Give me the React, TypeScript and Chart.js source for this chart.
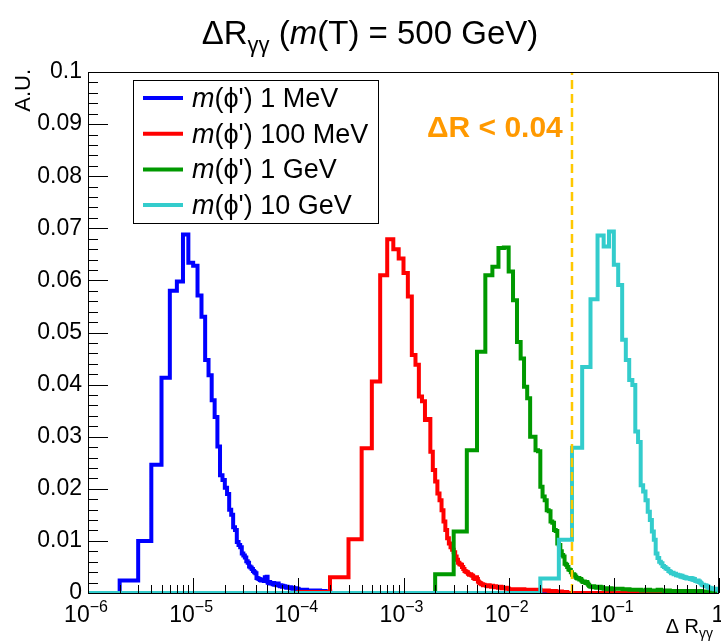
import React, { useEffect, useRef } from 'react';
import { Chart, registerables } from 'chart.js';

Chart.register(...registerables);

// ---------------- data ----------------
const X_MIN = 1e-6;
const X_MAX = 1;
const Y_MIN = 0;
const Y_MAX = 0.1;
const Y_STEP = 0.01;
const CUT_VALUE = 0.04;
const CUT_LABEL = 'ΔR < 0.04';
const X_DECADES = [-6, -5, -4, -3, -2, -1, 0];
const SERIES_LABELS = ['1 MeV', '100 MeV', '1 GeV', '10 GeV'];
const SERIES_COLORS = ['#0000ff', '#ff0000', '#009900', '#33cccc'];
// linear bin width of each histogram; bin k spans [k*w, (k+1)*w]
const BIN_WIDTHS = [1e-6, 1e-4, 1e-3, 1e-2];
// tail bins are this many fine bins wide
const TAIL_GROUP = 20;

const blueValues = [
  0, 0.0024, 0.0100, 0.0246, 0.0413, 0.0580, 0.0598, 0.0688, 0.0634, 0.0628,
  0.0571, 0.0530, 0.0447, 0.0418, 0.0370, 0.0338, 0.0281, 0.0226, 0.0217, 0.0202,
  0.0190, 0.0160, 0.0150, 0.0126, 0.0121, 0.0098, 0.0092, 0.0088, 0.0076, 0.0072,
  0.0068, 0.0061, 0.0058, 0.0051, 0.0049, 0.0046, 0.0042, 0.0040, 0.0038, 0.0029,
  0.0028, 0.0027, 0.0025, 0.0024, 0.0026, 0.0024, 0.0023, 0.0030, 0.0029, 0.0031,
  0.0020, 0.0019, 0.0021, 0.0018, 0.0019, 0.0018, 0.0017, 0.0019, 0.0016, 0.0018,
  0.0017, 0.0015, 0.0016, 0.0018, 0.0015, 0.0014, 0.0013, 0.0015, 0.0014, 0.0012,
  0.0014, 0.0013, 0.0012, 0.0013, 0.0012, 0.0011, 0.0010, 0.0012, 0.0011, 0.0010,
  0.0011, 0.0010, 0.0009, 0.0011, 0.0010, 0.0009, 0.0010, 0.0008, 0.0009, 0.0010,
  0.0009, 0.0008, 0.0009, 0.0008, 0.0007, 0.0009, 0.0008, 0.0007, 0.0008, 0.0007,
];
const blueTail = [0.0006, 0.0005, 0.0005, 0.0004, 0.0003];

const redValues = [
  0.0002, 0.0030, 0.0103, 0.0278, 0.0406, 0.0610, 0.0679, 0.0660, 0.0642, 0.0614,
  0.0569, 0.0457, 0.0438, 0.0377, 0.0368, 0.0332, 0.0334, 0.0271, 0.0236, 0.0214,
  0.0191, 0.0178, 0.0159, 0.0137, 0.0121, 0.0105, 0.0095, 0.0088, 0.0083, 0.0078,
  0.0070, 0.0064, 0.0058, 0.0055, 0.0054, 0.0050, 0.0046, 0.0042, 0.0041, 0.0040,
  0.0037, 0.0035, 0.0036, 0.0034, 0.0033, 0.0029, 0.0028, 0.0027, 0.0030, 0.0027,
  0.0022, 0.0020, 0.0019, 0.0018, 0.0017, 0.0017, 0.0015, 0.0016, 0.0015, 0.0015,
  0.0014, 0.0015, 0.0013, 0.0014, 0.0015, 0.0013, 0.0014, 0.0012, 0.0013, 0.0014,
  0.0012, 0.0013, 0.0012, 0.0011, 0.0013, 0.0012, 0.0011, 0.0012, 0.0010, 0.0011,
  0.0010, 0.0011, 0.0010, 0.0012, 0.0010, 0.0009, 0.0011, 0.0010, 0.0009, 0.0010,
  0.0009, 0.0010, 0.0009, 0.0008, 0.0010, 0.0009, 0.0008, 0.0009, 0.0008, 0.0008,
];
const redTail = [
  0.0007, 0.0007, 0.0006, 0.0006, 0.0006, 0.0005, 0.0005, 0.0004, 0.0004, 0.0003,
  0.0003, 0.0002, 0.0002,
];

const greenValues = [
  0, 0.0036, 0.0118, 0.0274, 0.0463, 0.0610, 0.0626, 0.0662, 0.0663, 0.0617,
  0.0562, 0.0482, 0.0450, 0.0396, 0.0374, 0.0300, 0.0300, 0.0274, 0.0272, 0.0204,
  0.0185, 0.0178, 0.0159, 0.0157, 0.0137, 0.0135, 0.0121, 0.0119, 0.0095, 0.0092,
  0.0080, 0.0073, 0.0070, 0.0056, 0.0054, 0.0050, 0.0045, 0.0044, 0.0040, 0.0035,
  0.0036, 0.0034, 0.0031, 0.0029, 0.0028, 0.0029, 0.0026, 0.0027, 0.0024, 0.0022,
  0.0021, 0.0022, 0.0020, 0.0019, 0.0021, 0.0018, 0.0016, 0.0014, 0.0013, 0.0012,
  0.0013, 0.0012, 0.0011, 0.0013, 0.0012, 0.0011, 0.0012, 0.0010, 0.0011, 0.0012,
  0.0010, 0.0011, 0.0010, 0.0012, 0.0010, 0.0009, 0.0011, 0.0010, 0.0009, 0.0008,
  0.0009, 0.0008, 0.0009, 0.0008, 0.0007, 0.0009, 0.0008, 0.0008, 0.0007, 0.0008,
  0.0008, 0.0007, 0.0008, 0.0009, 0.0007, 0.0008, 0.0007, 0.0008, 0.0007, 0.0008,
];
const greenTail = [
  0.0008, 0.0007, 0.0006, 0.0006, 0.0005, 0.0006, 0.0005, 0.0005, 0.0006, 0.0005,
  0.0004, 0.0005, 0.0004, 0.0004, 0.0003, 0.0004, 0.0004, 0.0003, 0.0004, 0.0003,
  0.0003, 0.0004, 0.0003, 0.0003, 0.0004, 0.0003, 0.0003, 0.0003, 0.0004, 0.0003,
  0.0003, 0.0003, 0.0002, 0.0003, 0.0003, 0.0002, 0.0003, 0.0003, 0.0002, 0.0003,
  0.0002, 0.0003, 0.0002, 0.0002, 0.0002,
];

const cyanValues = [
  0, 0.0028, 0.0102, 0.0279, 0.0434, 0.0564, 0.0686, 0.0665, 0.0694, 0.0630,
  0.0591, 0.0486, 0.0447, 0.0409, 0.0399, 0.0310, 0.0290, 0.0207, 0.0195, 0.0178,
  0.0156, 0.0140, 0.0118, 0.0102, 0.0076, 0.0067, 0.0060, 0.0057, 0.0052, 0.0050,
  0.0047, 0.0046, 0.0042, 0.0041, 0.0038, 0.0039, 0.0036, 0.0037, 0.0034, 0.0035,
  0.0033, 0.0034, 0.0031, 0.0033, 0.0030, 0.0031, 0.0029, 0.0030, 0.0028, 0.0029,
  0.0029, 0.0028, 0.0027, 0.0029, 0.0026, 0.0028, 0.0025, 0.0027, 0.0024, 0.0023,
  0.0023, 0.0022, 0.0024, 0.0021, 0.0022, 0.0020, 0.0019, 0.0017, 0.0016, 0.0015,
  0.0016, 0.0015, 0.0014, 0.0015, 0.0013, 0.0014, 0.0012, 0.0013, 0.0011, 0.0010,
  0.0009, 0.0010, 0.0009, 0.0008, 0.0009, 0.0008, 0.0009, 0.0008, 0.0007, 0.0008,
  0.0008, 0.0007, 0.0008, 0.0007, 0.0006, 0.0007, 0.0006, 0.0007, 0.0006,
];
const cyanTail: number[] = [];

const SERIES_VALUES = [blueValues, redValues, greenValues, cyanValues];
const SERIES_TAILS = [blueTail, redTail, greenTail, cyanTail];

// ---------------- helpers ----------------
const FONT = '"Liberation Sans", Arial, Helvetica, sans-serif';

function histPoints(w: number, values: number[], tail: number[]) {
  const pts: { x: number; y: number }[] = [{ x: X_MIN, y: 0 }];
  values.forEach((v, i) => pts.push({ x: (i + 1) * w, y: v }));
  const tailStart = (values.length + 1) * w;
  tail.forEach((v, j) => pts.push({ x: tailStart + j * TAIL_GROUP * w, y: v }));
  const end = tailStart + tail.length * TAIL_GROUP * w;
  pts.push({ x: Math.min(end, X_MAX), y: 0 });
  if (end < X_MAX) pts.push({ x: X_MAX, y: 0 });
  return pts;
}

type Seg = { t: string; s: number; it?: boolean; b?: boolean; dy?: number };

function fontOf(seg: Seg) {
  return `${seg.it ? 'italic ' : ''}${seg.b ? 'bold ' : ''}${seg.s}px ${FONT}`;
}

function drawRich(ctx: CanvasRenderingContext2D, segs: Seg[], x: number, y: number, align: 'left' | 'center' | 'right', color = '#000') {
  ctx.save();
  ctx.fillStyle = color;
  ctx.textBaseline = 'alphabetic';
  ctx.textAlign = 'left';
  let total = 0;
  const widths = segs.map((sg) => {
    ctx.font = fontOf(sg);
    const w = ctx.measureText(sg.t).width;
    total += w;
    return w;
  });
  let cx = align === 'left' ? x : align === 'center' ? x - total / 2 : x - total;
  segs.forEach((sg, i) => {
    ctx.font = fontOf(sg);
    ctx.fillText(sg.t, cx, y + (sg.dy || 0));
    cx += widths[i];
  });
  ctx.restore();
}

const decorPlugin = {
  id: 'rootDecor',
  afterDatasetsDraw(chart: any) {
    const { ctx, chartArea: a, scales } = chart;
    const xs = scales.x;
    const ys = scales.y;
    ctx.save();
    // frame
    ctx.strokeStyle = '#000';
    ctx.lineWidth = 1;
    ctx.strokeRect(a.left + 0.5, a.top + 0.5, a.right - a.left - 1, a.bottom - a.top);

    // y ticks (inside)
    ctx.beginPath();
    const nMinor = Math.round((Y_MAX - Y_MIN) / (Y_STEP / 5));
    for (let i = 0; i <= nMinor; i++) {
      const v = Y_MIN + (i * Y_STEP) / 5;
      const py = Math.round(ys.getPixelForValue(v)) + 0.5;
      const len = i % 5 === 0 ? 20 : 10;
      ctx.moveTo(a.left, py);
      ctx.lineTo(a.left + len, py);
    }
    // x ticks (inside, log)
    X_DECADES.forEach((d) => {
      const base = Math.pow(10, d);
      const px = Math.round(xs.getPixelForValue(base)) + 0.5;
      ctx.moveTo(px, a.bottom);
      ctx.lineTo(px, a.bottom - 15);
      if (d < 0) {
        for (let m = 2; m <= 9; m++) {
          const qx = Math.round(xs.getPixelForValue(m * base)) + 0.5;
          ctx.moveTo(qx, a.bottom);
          ctx.lineTo(qx, a.bottom - 8);
        }
      }
    });
    ctx.stroke();

    // x tick labels
    X_DECADES.forEach((d) => {
      const px = xs.getPixelForValue(Math.pow(10, d));
      if (d === 0) {
        drawRich(ctx, [{ t: '1', s: 23 }], px - 1, a.bottom + 29, 'center');
      } else {
        drawRich(ctx, [{ t: '10', s: 23 }, { t: `−${-d}`, s: 16, dy: -10 }], px - 2, a.bottom + 29, 'center');
      }
    });

    // x axis title
    drawRich(ctx, [{ t: 'Δ R', s: 20 }, { t: 'γγ', s: 14, dy: 5 }], 713, 633, 'right');

    // y axis title
    ctx.save();
    ctx.translate(30, 69);
    ctx.rotate(-Math.PI / 2);
    drawRich(ctx, [{ t: 'A.U.', s: 22 }], 0, 0, 'right');
    ctx.restore();

    // title
    drawRich(
      ctx,
      [
        { t: 'ΔR', s: 33 },
        { t: 'γγ', s: 22, dy: 8 },
        { t: ' (', s: 33 },
        { t: 'm', s: 33, it: true },
        { t: '(T) = 500 GeV)', s: 33 },
      ],
      370,
      44,
      'center'
    );

    // cut label
    drawRich(ctx, [{ t: CUT_LABEL, s: 30, b: true }], 427, 137, 'left', '#ff9900');

    // legend
    const lx0 = 133, ly0 = 80, lx1 = 378, ly1 = 223;
    ctx.fillStyle = '#fff';
    ctx.fillRect(lx0, ly0, lx1 - lx0, ly1 - ly0);
    ctx.strokeStyle = '#000';
    ctx.lineWidth = 1;
    ctx.strokeRect(lx0 + 0.5, ly0 + 0.5, lx1 - lx0, ly1 - ly0);
    SERIES_LABELS.forEach((lab, i) => {
      const ry = 98 + i * 35.7;
      ctx.strokeStyle = SERIES_COLORS[i];
      ctx.lineWidth = 4;
      ctx.beginPath();
      ctx.moveTo(143, ry);
      ctx.lineTo(183, ry);
      ctx.stroke();
      drawRich(ctx, [{ t: 'm', s: 27, it: true }, { t: `(ϕ') ${lab}`, s: 27 }], 192, ry + 9, 'left');
    });
    ctx.restore();
  },
};

export default function App() {
  const ref = useRef<HTMLCanvasElement | null>(null);
  useEffect(() => {
    if (!ref.current) return;
    const datasets: any[] = SERIES_LABELS.map((lab, i) => ({
      label: lab,
      data: histPoints(BIN_WIDTHS[i], SERIES_VALUES[i], SERIES_TAILS[i]),
      borderColor: SERIES_COLORS[i],
      backgroundColor: SERIES_COLORS[i],
      borderWidth: 4,
      pointRadius: 0,
      fill: false,
      stepped: 'before',
      order: SERIES_LABELS.length - i,
    }));
    datasets.push({
      label: 'cut',
      data: [
        { x: CUT_VALUE, y: Y_MIN },
        { x: CUT_VALUE, y: Y_MAX },
      ],
      borderColor: '#ffc800',
      borderWidth: 2.5,
      borderDash: [9, 5],
      pointRadius: 0,
      fill: false,
      order: 0,
    });
    const chart = new Chart(ref.current, {
      type: 'line',
      data: { datasets },
      options: {
        animation: false,
        responsive: false,
        maintainAspectRatio: false,
        parsing: true,
        layout: { padding: { left: 0, top: 72, right: 2, bottom: 48 } },
        plugins: { legend: { display: false }, tooltip: { enabled: false } },
        scales: {
          x: { type: 'logarithmic', min: X_MIN, max: X_MAX, display: false },
          y: {
            type: 'linear',
            min: Y_MIN,
            max: Y_MAX,
            grid: { display: false, drawTicks: false },
            border: { display: false },
            ticks: {
              stepSize: Y_STEP,
              padding: 6,
              color: '#000',
              font: { family: FONT, size: 23 },
              callback: (v: any) => String(Number(Number(v).toFixed(2))),
            },
            afterFit: (s: any) => {
              s.width = 88;
            },
          },
        },
      },
      plugins: [decorPlugin],
    });
    return () => chart.destroy();
  }, []);
  return (
    <div style={{ position: 'fixed', left: 0, top: 0, width: 721, height: 641, background: '#fff' }}>
      <canvas ref={ref} width={721} height={641} style={{ width: 721, height: 641, display: 'block' }} />
    </div>
  );
}
